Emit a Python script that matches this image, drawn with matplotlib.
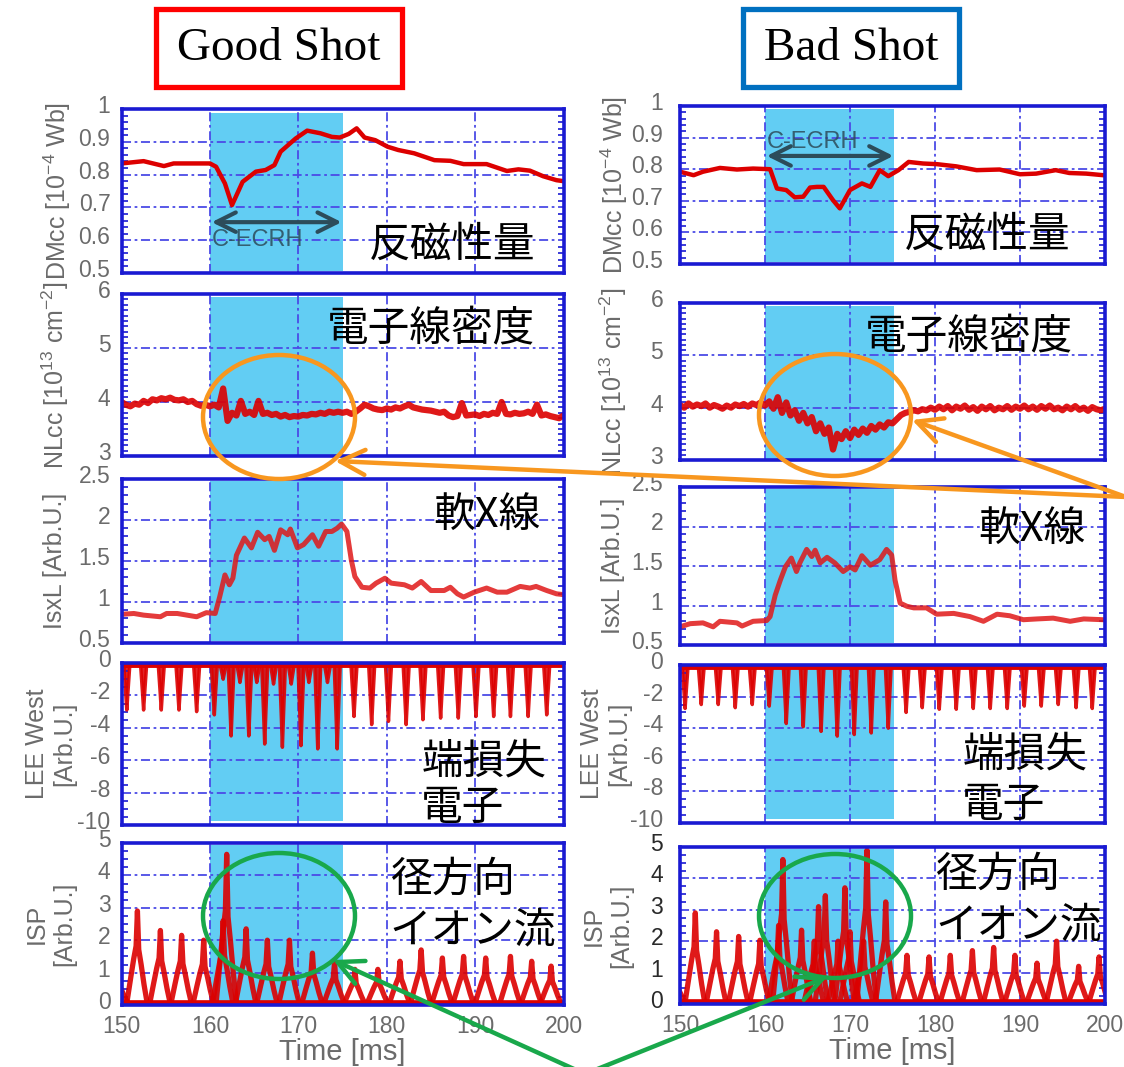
import numpy as np
import matplotlib
matplotlib.use('Agg')
import matplotlib.pyplot as plt
import matplotlib.patches as patches
from matplotlib.ticker import AutoMinorLocator
from matplotlib.transforms import ScaledTranslation

plt.rcParams['font.family'] = ['Liberation Sans', 'DejaVu Sans']
plt.rcParams['axes.unicode_minus'] = False
plt.rcParams['mathtext.fontset'] = 'custom'
plt.rcParams['mathtext.rm'] = 'Liberation Sans'
plt.rcParams['mathtext.it'] = 'Liberation Sans:italic'
plt.rcParams['mathtext.bf'] = 'Liberation Sans:bold'

# ---- データ ----
time_ticks = [150, 160, 170, 180, 190, 200]
ecrh_good = (160, 175)
ecrh_bad = (160, 175.2)

# 反磁性量 DMcc
dm_good_t = [150, 152.5, 154.8, 155.9, 160, 160.7, 161.7, 162.5, 163.7, 165.2, 166.3, 167.3, 168,
             169.7, 171, 172.5, 173.8, 174.7, 175.7, 176.6, 177.5, 178.7, 180.1, 181.3, 183.1,
             185.4, 187.2, 188.7, 191.3, 193.6, 194.9, 196.2, 197.7, 199.2, 200]
dm_good_v = [0.834, 0.841, 0.826, 0.834, 0.834, 0.824, 0.773, 0.707, 0.778, 0.809, 0.814, 0.829, 0.870,
             0.910, 0.934, 0.926, 0.915, 0.913, 0.924, 0.941, 0.913, 0.905, 0.885, 0.875, 0.865,
             0.844, 0.842, 0.832, 0.832, 0.811, 0.816, 0.812, 0.795, 0.783, 0.780]
dm_bad_t = [150, 151.6, 152.7, 154.7, 156.7, 158.6, 160.6, 161.4, 162.5, 163.5, 164.5, 165.3, 166.1,
            166.9, 168.0, 168.8, 170, 171.4, 172.4, 173.5, 174.5, 175.7, 176.9, 178.6, 180.2,
            182.5, 184.9, 187.6, 190, 191.9, 194.2, 195.8, 197.8, 199.8]
dm_bad_v = [0.792, 0.781, 0.792, 0.804, 0.799, 0.802, 0.800, 0.739, 0.734, 0.711, 0.713, 0.742, 0.744,
            0.744, 0.702, 0.676, 0.734, 0.755, 0.744, 0.797, 0.778, 0.797, 0.823, 0.818, 0.816,
            0.809, 0.797, 0.799, 0.784, 0.786, 0.797, 0.788, 0.786, 0.781]

# 電子線密度 NLcc（0.5 ms 毎）
nl_t = np.linspace(150, 200, 101)
nl_good = [4.00, 3.95, 3.92, 3.97, 3.95, 4.02, 3.98, 4.05, 4.03, 4.07,
           4.05, 4.08, 4.04, 4.03, 4.05, 4.00, 4.02, 3.96, 3.93, 3.95,
           3.92, 3.95, 3.90, 4.25, 3.65, 3.80, 3.75, 4.02, 3.78, 3.82,
           3.76, 4.02, 3.78, 3.80, 3.76, 3.78, 3.73, 3.76, 3.72, 3.74,
           3.73, 3.76, 3.75, 3.78, 3.77, 3.80, 3.78, 3.82, 3.80, 3.82,
           3.80, 3.82, 3.78, 3.82, 3.88, 3.95, 3.92, 3.88, 3.86, 3.85,
           3.88, 3.86, 3.90, 3.88, 3.92, 3.95, 3.90, 3.88, 3.86, 3.85,
           3.84, 3.82, 3.80, 3.82, 3.75, 3.72, 3.74, 3.98, 3.75, 3.76,
           3.77, 3.74, 3.78, 3.76, 3.80, 3.78, 4.00, 3.78, 3.77, 3.80,
           3.78, 3.79, 3.82, 3.78, 3.95, 3.75, 3.77, 3.74, 3.72, 3.70,
           3.75]
nl_bad = [4.05, 4.00, 4.08, 4.02, 4.06, 4.03, 4.08, 4.00, 4.05, 4.02,
          3.98, 4.04, 4.00, 4.06, 4.03, 4.07, 4.02, 4.08, 4.05, 4.10,
          4.04, 4.12, 3.98, 4.20, 3.90, 4.10, 3.85, 3.95, 3.75, 3.90,
          3.70, 3.82, 3.55, 3.70, 3.50, 3.62, 3.20, 3.50, 3.40, 3.55,
          3.42, 3.58, 3.48, 3.60, 3.52, 3.65, 3.58, 3.68, 3.62, 3.72,
          3.70, 3.78, 3.86, 3.90, 3.92, 3.95, 3.93, 3.97, 3.95, 4.00,
          3.96, 4.02, 3.97, 4.03, 3.95, 4.02, 3.98, 4.04, 3.96, 4.01,
          3.94, 4.02, 3.97, 4.03, 3.95, 4.00, 3.97, 4.03, 3.96, 4.02,
          3.98, 4.04, 3.97, 4.02, 3.96, 4.03, 3.98, 4.04, 3.97, 4.00,
          3.95, 4.02, 3.97, 4.03, 3.96, 4.00, 3.94, 4.01, 3.97, 3.95,
          3.98]

# 軟X線 IsxL
sx_good_t = [150, 151.4, 152.5, 154.4, 155.1, 156.3, 157.4, 158.5, 159.6, 160.6, 161.1, 161.7, 162.2,
             162.6, 163.0, 163.9, 164.7, 165.4, 166.2, 166.7, 167.3, 168.0, 168.8, 169.1, 169.9,
             170.6, 171.6, 172.3, 173.1, 173.8, 174.4, 174.9, 175.5, 176.0, 176.4, 177.2, 178.1,
             178.8, 179.8, 180.5, 182.0, 182.9, 183.9, 185.0, 186.5, 187.2, 188.0, 188.7, 189.9,
             191.3, 192.5, 193.6, 195.1, 196.2, 196.9, 198.1, 199.2, 200]
sx_good_v = [0.85, 0.86, 0.84, 0.82, 0.86, 0.86, 0.84, 0.82, 0.87, 0.86, 1.06, 1.33, 1.21,
             1.29, 1.57, 1.78, 1.66, 1.85, 1.76, 1.80, 1.63, 1.88, 1.82, 1.89, 1.66,
             1.70, 1.82, 1.68, 1.86, 1.86, 1.90, 1.95, 1.86, 1.51, 1.31, 1.18, 1.17,
             1.23, 1.29, 1.23, 1.21, 1.17, 1.25, 1.14, 1.14, 1.18, 1.10, 1.06, 1.12,
             1.17, 1.12, 1.12, 1.19, 1.17, 1.19, 1.14, 1.10, 1.09]
sx_bad_t = [150, 151.2, 152.7, 153.9, 154.7, 156.7, 157.3, 158.6, 160.2, 160.6, 161.2, 161.8, 162.4,
            163.1, 163.7, 164.1, 164.9, 165.5, 165.9, 166.5, 167.3, 168.2, 169.2, 170.0, 170.6,
            171.4, 172.4, 173.5, 174.3, 174.9, 175.3, 175.9, 176.7, 177.5, 179.0, 180.2, 182.2,
            184.1, 185.7, 187.3, 188.8, 190.4, 192.0, 193.9, 195.9, 197.5, 199.8]
sx_bad_v = [0.73, 0.77, 0.78, 0.73, 0.80, 0.78, 0.74, 0.80, 0.81, 0.86, 1.13, 1.32, 1.49,
            1.60, 1.43, 1.54, 1.71, 1.62, 1.70, 1.54, 1.61, 1.54, 1.43, 1.49, 1.45,
            1.63, 1.51, 1.58, 1.71, 1.64, 1.32, 1.03, 0.99, 0.97, 0.97, 0.89, 0.90,
            0.86, 0.80, 0.89, 0.87, 0.82, 0.83, 0.84, 0.80, 0.83, 0.82]

# 端損失電子 LEE West（パルスのピーク時刻と深さ）
lee_good_t = [150.6, 152.5, 154.5, 156.5, 158.5, 160.5, 161.5, 162.4, 163.4, 164.4, 165.3, 166.2,
              167.2, 168.2, 169.2, 170.3, 171.2, 172.2, 173.3, 174.4, 176.3, 178.3, 180.2, 182.2,
              184.1, 186.1, 188.1, 190.1, 192.1, 194.0, 196.0, 198.1]
lee_good_v = [-2.9, -2.9, -2.9, -2.9, -3.0, -3.2, -1.0, -4.5, -1.2, -4.5, -1.2, -5.0,
              -1.3, -5.2, -1.3, -5.1, -1.2, -5.3, -1.2, -5.3, -3.3, -3.8, -3.6, -3.8,
              -3.5, -3.4, -3.4, -3.3, -3.3, -3.3, -3.3, -3.2]
lee_bad_t = [150.6, 152.5, 154.5, 156.5, 158.5, 160.5, 162.5, 164.5, 166.6, 168.5, 170.5, 172.5,
             174.5, 176.6, 178.5, 180.5, 182.5, 184.5, 186.5, 188.5, 190.5, 192.5, 194.5, 196.6, 198.5]
lee_bad_v = [-2.75, -2.5, -2.5, -2.7, -2.5, -2.6, -3.7, -3.9, -4.2, -4.5, -4.4, -4.3,
             -4.0, -3.0, -2.7, -2.8, -2.8, -2.75, -2.75, -2.75, -2.6, -2.6, -2.5, -2.7, -2.75]

# 径方向イオン流 ISP（ピーク時刻と高さ）
isp_good_t = [149.6, 151.8, 154.4, 156.8, 159.3, 161.5, 161.9, 164.1, 166.5, 169.0, 171.6,
              174.1, 176.4, 179.0, 181.5, 183.9, 186.3, 188.7, 191.2, 194.0, 196.4, 198.6]
isp_good_v = [1.0, 2.9, 2.3, 2.15, 2.0, 2.6, 4.65, 2.35, 2.0, 2.0, 1.6,
              1.3, 1.1, 1.1, 1.35, 1.7, 1.45, 1.5, 1.45, 1.5, 1.35, 1.2]
isp_bad_t = [149.5, 151.8, 154.3, 156.9, 159.4, 161.6, 162.1, 164.3, 165.8, 166.3, 167.1, 168.6,
             169.4, 170.0, 171.6, 172.0, 174.2, 176.7, 179.3, 181.8, 184.4, 186.9, 189.4, 192.0,
             194.3, 196.9, 199.3]
isp_bad_v = [0.9, 2.9, 2.3, 2.15, 2.03, 2.5, 4.6, 2.35, 2.0, 3.1, 3.45, 2.0,
             3.7, 2.3, 2.0, 4.9, 3.25, 1.55, 1.5, 1.55, 1.7, 1.8, 1.55, 1.3,
             2.0, 1.2, 1.5]

# ---- スタイル ----
GRID = '#4b4be6'
SPINE = '#1a1ad2'
TICKC = '#6b6b6b'
RED = '#dc0000'
CYAN = '#62cdf3'
ORANGE = '#f8971f'
GREEN = '#19a84b'
ARROWC = '#2c4c5a'
JP = ['Noto Sans CJK JP']

# パルス形状（ピーク前後の相対時間と比率）
lee_off = [-0.34, -0.13, 0.0, 0.13, 0.34]
lee_mul = [0.0, 0.6, 1.0, 0.6, 0.0]
isp_off = [-1.15, -0.75, -0.42, -0.15, 0.0, 0.15, 0.42, 0.75, 1.05]
isp_mul = [0.03, 0.28, 0.48, 0.62, 1.0, 0.58, 0.42, 0.2, 0.03]

W, H = 1124, 1067
fig = plt.figure(figsize=(W / 100, H / 100), dpi=100)
label_shift = ScaledTranslation(0, 5 / 100, fig.dpi_scale_trans)  # 目盛ラベルを少し上へ


def px_axes(x0, x1, top, bottom):
    return fig.add_axes([x0 / W, 1 - bottom / H, (x1 - x0) / W, (bottom - top) / H])


def style(ax, ylim, yticks, ylabels, nminor, ylabel, label_x, pad, bottom_row, tickcolor=TICKC):
    ax.set_xlim(150, 200)
    ax.set_ylim(*ylim)
    ax.set_xticks(time_ticks)
    ax.set_yticks(yticks)
    ax.set_yticklabels(ylabels)
    ax.yaxis.set_minor_locator(AutoMinorLocator(nminor))
    ax.grid(True, which='major', color=GRID, linestyle=(0, (5, 2, 1.5, 2)), linewidth=1.3)
    for s in ax.spines.values():
        s.set_color(SPINE)
        s.set_linewidth(2.6)
    ax.tick_params(which='major', length=0, labelsize=16.5)
    ax.tick_params(axis='y', which='major', pad=pad, labelcolor=tickcolor)
    ax.tick_params(axis='x', which='major', pad=7, labelcolor=TICKC)
    ax.tick_params(axis='y', which='minor', direction='in', length=4, width=1.2,
                   color=SPINE, left=True, right=True)
    for lab in ax.get_yticklabels():
        lab.set_transform(lab.get_transform() + label_shift)
    if not bottom_row:
        ax.set_xticklabels([])
    ax.set_ylabel(ylabel, fontsize=18, color=TICKC, va='center')
    ax.yaxis.set_label_coords(label_x, 0.5)


def draw_spikes(ax, times, values, offs, muls, base, lw=3, filled=False):
    ax.plot([150, 200], [base, base], color=RED, lw=lw + 1)
    for t, v in zip(times, values):
        xs = [t + o for o in offs]
        ys = [base + (v - base) * m for m in muls]
        if filled:
            ax.fill(xs, ys, color=RED, alpha=0.85, lw=0)
        ax.plot(xs, ys, color=RED, lw=lw, alpha=0.9)


columns = [
    dict(x0=121.5, x1=563.5, rows=[(109, 273), (294, 456), (479, 643), (663, 825), (843, 1005)],
         ecrh=ecrh_good, dm=(dm_good_t, dm_good_v), nl=nl_good, sx=(sx_good_t, sx_good_v),
         lee=(lee_good_t, lee_good_v), isp=(isp_good_t, isp_good_v),
         label_x=[-0.146, -0.15, -0.15, -0.16, -0.16], pad=8, isp_tc=TICKC, xlab_y=-0.29),
    dict(x0=680, x1=1105, rows=[(106, 264), (303, 460), (487, 645), (665, 823), (847, 1004)],
         ecrh=ecrh_bad, dm=(dm_bad_t, dm_bad_v), nl=nl_bad, sx=(sx_bad_t, sx_bad_v),
         lee=(lee_bad_t, lee_bad_v), isp=(isp_bad_t, isp_bad_v),
         label_x=[-0.155, -0.158, -0.158, -0.175, -0.17], pad=12, isp_tc='#2a2a2a', xlab_y=-0.30),
]

for ci, col in enumerate(columns):
    axes = [px_axes(col['x0'], col['x1'], t, b) for t, b in col['rows']]
    lx = col['label_x']

    # 反磁性量
    ax = axes[0]
    ax.axvspan(*col['ecrh'], ymin=0.015, ymax=0.978, color=CYAN, lw=0)
    ax.plot(*col['dm'], color=RED, lw=3.2)
    style(ax, (0.5, 1), [0.5, 0.6, 0.7, 0.8, 0.9, 1.0], ['0.5', '0.6', '0.7', '0.8', '0.9', '1'], 5,
          r'DMcc [10$^{-4}$ Wb]', lx[0], col['pad'], False)

    # 電子線密度
    ax = axes[1]
    ax.axvspan(*col['ecrh'], ymin=0.0, ymax=0.98, color=CYAN, lw=0)
    ax.plot(nl_t, col['nl'], color=RED, lw=4.5, alpha=0.9)
    style(ax, (3, 6), [3, 4, 5, 6], ['3', '4', '5', '6'], 10,
          r'NLcc [10$^{13}$ cm$^{-2}$]', lx[1], col['pad'], False)

    # 軟X線
    ax = axes[2]
    ax.axvspan(*col['ecrh'], ymin=0.015, ymax=0.985, color=CYAN, lw=0)
    ax.plot(*col['sx'], color='#e01818', lw=3.6, alpha=0.85)
    style(ax, (0.5, 2.5), [0.5, 1.0, 1.5, 2.0, 2.5], ['0.5', '1', '1.5', '2', '2.5'], 5,
          'IsxL [Arb.U.]', lx[2], col['pad'], False)

    # 端損失電子
    ax = axes[3]
    ax.axvspan(*col['ecrh'], ymin=0.025, ymax=0.99, color=CYAN, lw=0)
    draw_spikes(ax, *col['lee'], lee_off, lee_mul, base=-0.12, lw=2.5, filled=True)
    style(ax, (-10, 0), [-10, -8, -6, -4, -2, 0], ['-10', '-8', '-6', '-4', '-2', '0'], 4,
          'LEE West\n[Arb.U.]', lx[3], col['pad'], False)

    # 径方向イオン流
    ax = axes[4]
    ax.axvspan(*col['ecrh'], ymin=0.0, ymax=0.99, color=CYAN, lw=0)
    draw_spikes(ax, *col['isp'], isp_off, isp_mul, base=0.06, lw=3.8)
    style(ax, (0, 5), [0, 1, 2, 3, 4, 5], ['0', '1', '2', '3', '4', '5'], 4,
          'ISP\n[Arb.U.]', lx[4], col['pad'], True, tickcolor=col['isp_tc'])
    ax.set_xlabel('Time [ms]', fontsize=21, color=TICKC, va='center')
    ax.xaxis.set_label_coords(0.5, col['xlab_y'])

    # 日本語ラベル
    if ci == 0:
        pos = [(0.936, 0.17, 'right'), (0.936, 0.78, 'right'), (0.947, 0.78, 'right'),
               (0.678, 0.39, 0.105), (0.607, 0.77, 0.46)]
        ecrh_y, ecrh_ty = 0.655, 0.60
    else:
        pos = [(0.918, 0.18, 'right'), (0.925, 0.78, 'right'), (0.953, 0.73, 'right'),
               (0.664, 0.43, 0.11), (0.600, 0.82, 0.50)]
        ecrh_y, ecrh_ty = 0.842, 0.886
    for ax, s, p in zip(axes[:3], ['反磁性量', '電子線密度', '軟X線'], pos[:3]):
        ax.text(p[0], p[1], s, transform=ax.transAxes, ha=p[2], va='center',
                fontsize=30, family=JP, color='black')
    for ax, (l1, l2), p in zip(axes[3:], [('端損失', '電子'), ('径方向', 'イオン流')], pos[3:]):
        ax.text(p[0], p[1], l1, transform=ax.transAxes, ha='left', va='center',
                fontsize=30, family=JP, color='black')
        ax.text(p[0], p[2], l2, transform=ax.transAxes, ha='left', va='center',
                fontsize=30, family=JP, color='black')

    # C-ECRH 矢印
    e0, e1 = col['ecrh']
    axes[0].annotate('', xy=(e0 + 0.2, ecrh_y), xytext=(e1 - 0.1, ecrh_y),
                     arrowprops=dict(arrowstyle='<->,head_length=0.7,head_width=0.35',
                                     color=ARROWC, lw=3, mutation_scale=20, shrinkA=0, shrinkB=0))
    axes[0].text(e0 + 0.2, ecrh_ty, 'C-ECRH', fontsize=17, color=ARROWC, alpha=0.85, va='center')

# ---- 注釈（図全体のピクセル座標） ----
ov = fig.add_axes([0, 0, 1, 1])
ov.set_xlim(0, W)
ov.set_ylim(H, 0)
ov.axis('off')
ov.patch.set_visible(False)

ov.add_patch(patches.Rectangle((156, 9), 246, 78, fill=False, ec='#ff0000', lw=3.8))
ov.text(279, 49, 'Good Shot', ha='center', va='center', fontsize=34, family='Liberation Serif')
ov.add_patch(patches.Rectangle((743, 9), 216, 78, fill=False, ec='#0070c0', lw=3.8))
ov.text(851, 49, 'Bad Shot', ha='center', va='center', fontsize=34, family='Liberation Serif')

ov.add_patch(patches.Ellipse((279, 417), 152, 124, fill=False, ec=ORANGE, lw=3.2))
ov.add_patch(patches.Ellipse((835, 415), 152, 122, fill=False, ec=ORANGE, lw=3.2))
ov.add_patch(patches.Ellipse((279, 916), 152, 126, fill=False, ec=GREEN, lw=3.2))
ov.add_patch(patches.Ellipse((835, 916), 152, 124, fill=False, ec=GREEN, lw=3.2))

arrow_kw = dict(arrowstyle='->,head_length=0.9,head_width=0.45', lw=3.2, mutation_scale=20,
                shrinkA=0, shrinkB=0)
ov.annotate('', xy=(335, 461), xytext=(1126, 497), arrowprops=dict(color=ORANGE, **arrow_kw))
ov.annotate('', xy=(912, 420), xytext=(1126, 497), arrowprops=dict(color=ORANGE, **arrow_kw))
ov.annotate('', xy=(333, 960), xytext=(585, 1074), arrowprops=dict(color=GREEN, **arrow_kw))
ov.annotate('', xy=(827, 977), xytext=(585, 1074), arrowprops=dict(color=GREEN, **arrow_kw))

fig.savefig('out.png', dpi=100)
